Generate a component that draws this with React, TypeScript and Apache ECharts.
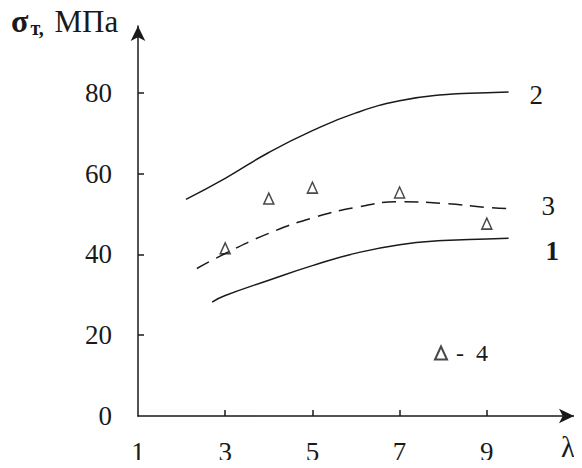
import React, { useEffect, useRef } from "react";
import * as echarts from "echarts";

const xTicks = [3, 5, 7, 9];
const yTicks = [20, 40, 60, 80];

const curve2: [number, number][] = [
  [2.1, 53.6], [3, 58.8], [4, 65.2], [5, 70.6], [6, 75], [7, 78], [8, 79.5], [9, 80], [9.5, 80.2],
];
const curve3: [number, number][] = [
  [2.35, 36.5], [3, 40.2], [4, 45.2], [5, 49], [6, 51.6], [7, 53], [8, 52.6], [9, 51.6], [9.5, 51.3],
];
const curve1: [number, number][] = [
  [2.7, 28.2], [3, 29.8], [4, 33.6], [5, 37.2], [6, 40.3], [7, 42.4], [8, 43.4], [9, 43.8], [9.5, 44],
];
const points4: [number, number][] = [
  [3, 41.5], [4, 53.8], [5, 56.5], [7, 55.3], [9, 47.6],
];

const FONT = "Liberation Serif";
const INK = "#1a1a1a";

export default function App() {
  const ref = useRef<HTMLDivElement>(null);
  useEffect(() => {
    if (!ref.current) return;
    const chart = echarts.init(ref.current, null, { renderer: "svg" });
    const lineStyle = { color: INK, width: 1.5 };
    chart.setOption({
      animation: false,
      backgroundColor: "#ffffff",
      grid: { left: 138, top: 26, width: 436, height: 390, outerBoundsMode: "none" },
      xAxis: {
        type: "value",
        min: 1,
        max: 11,
        interval: 2,
        splitLine: { show: false },
        axisLine: {
          lineStyle: { color: INK, width: 1.5 },
          symbol: ["none", "arrow"],
          symbolSize: [11, 15],
        },
        axisTick: { inside: true, length: 6, customValues: xTicks, lineStyle: { color: INK, width: 1.5 } },
        axisLabel: {
          margin: 22,
          fontFamily: FONT,
          fontSize: 27,
          color: INK,
          formatter: (v: number) => (v > 10 ? "" : String(v)),
        },
      },
      yAxis: {
        type: "value",
        min: 0,
        max: 96.5,
        interval: 20,
        splitLine: { show: false },
        axisLine: {
          lineStyle: { color: INK, width: 1.5 },
          symbol: ["none", "arrow"],
          symbolSize: [11, 15],
        },
        axisTick: { inside: true, length: 6, customValues: yTicks, lineStyle: { color: INK, width: 1.5 } },
        axisLabel: {
          margin: 26,
          fontFamily: FONT,
          fontSize: 27,
          color: INK,
          formatter: (v: number) => (v > 90 ? "" : String(v)),
        },
      },
      legend: {
        left: 429,
        top: 336,
        itemWidth: 12,
        itemHeight: 13,
        itemGap: 6,
        textStyle: { fontFamily: FONT, fontSize: 24, color: INK, padding: [0, 0, 0, 4] },
        data: [{ name: "-  4", icon: "triangle" }],
      },
      series: [
        {
          type: "line",
          name: "2",
          data: curve2,
          smooth: true,
          showSymbol: false,
          lineStyle,
          endLabel: { show: true, formatter: "2", distance: 21, offset: [0, 3], fontFamily: FONT, fontSize: 27, color: INK },
        },
        {
          type: "line",
          name: "3",
          data: curve3,
          smooth: true,
          showSymbol: false,
          lineStyle: { ...lineStyle, type: [14, 8] },
          endLabel: { show: true, formatter: "3", distance: 33, offset: [0, -3], fontFamily: FONT, fontSize: 27, color: INK },
        },
        {
          type: "line",
          name: "1",
          data: curve1,
          smooth: true,
          showSymbol: false,
          lineStyle,
          endLabel: { show: true, formatter: "1", distance: 37, offset: [0, 13], fontFamily: FONT, fontSize: 27, fontWeight: "bold", color: INK },
        },
        {
          type: "scatter",
          name: "-  4",
          data: points4,
          symbol: "triangle",
          symbolSize: [10, 11],
          itemStyle: { color: "#ffffff", borderColor: INK, borderWidth: 1.5 },
        },
      ],
      graphic: [
        {
          type: "text",
          left: 11,
          top: 5,
          style: {
            text: "{s|σ}{t|т,}{m| МПа}",
            rich: {
              s: { fontFamily: FONT, fontSize: 32, fontWeight: "bold", fill: INK },
              t: { fontFamily: FONT, fontSize: 20, fontWeight: "bold", fill: INK, padding: [14, 0, 0, 2] },
              m: { fontFamily: FONT, fontSize: 31, fill: INK, padding: [0, 0, 0, 3] },
            },
          },
        },
        {
          type: "text",
          left: 561,
          top: 432,
          style: { text: "λ", fontFamily: FONT, fontSize: 29, fill: INK },
        },
      ],
    });
    return () => chart.dispose();
  }, []);
  return <div ref={ref} style={{ width: 582, height: 468, margin: -8 }} />;
}
